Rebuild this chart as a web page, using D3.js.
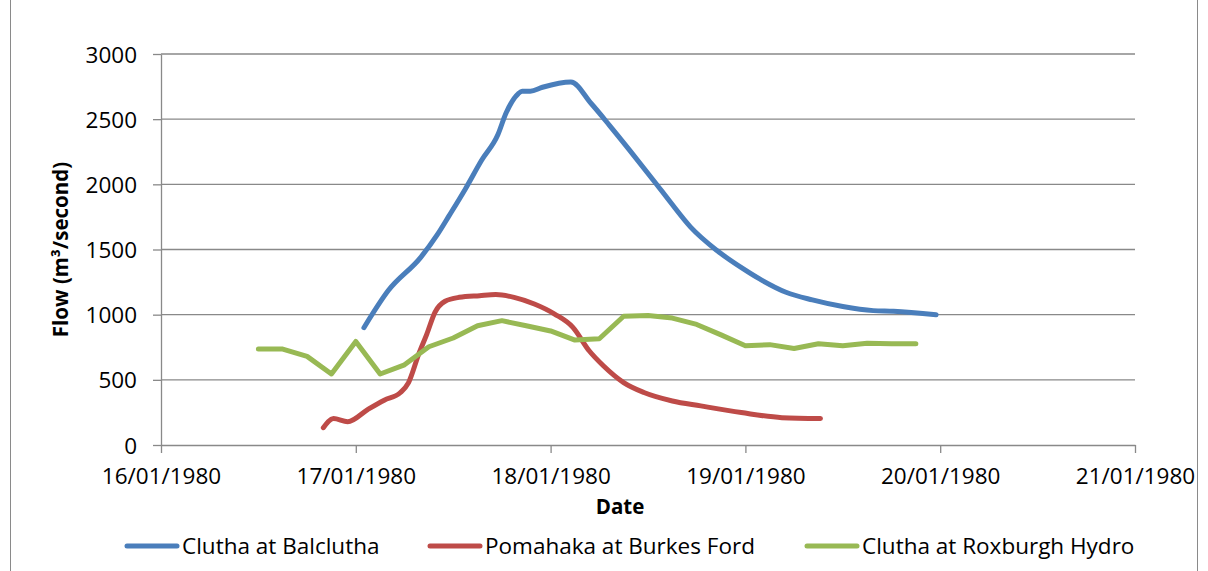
<!DOCTYPE html>
<html>
  <head>
    <meta charset="utf-8" />
    <title>Flow</title>
    <script src="https://d3js.org/d3.v7.min.js"></script>
    <style>
        body {
            margin: 0;
            background: #fff;
        }
        text {
            font-family: "Open Sans", sans-serif;
            fill: #000;
        }
    </style>
  </head>
  <body>
    <svg id="chart">
        <g id="grid"></g>
        <g id="x"></g>
        <g id="y"></g>
        <g id="lines"></g>
        <g id="legend"></g>
    </svg>

    <script>
        // tick labels
        var xTickDates = ["1980-01-16T00:00", "1980-01-17T00:00", "1980-01-18T00:00", "1980-01-19T00:00", "1980-01-20T00:00", "1980-01-21T00:00"];
        var xTickLabels = ["16/01/1980", "17/01/1980", "18/01/1980", "19/01/1980", "20/01/1980", "21/01/1980"];
        var yTicks = [0, 500, 1000, 1500, 2000, 2500, 3000];

        var seriesNames = ["Clutha at Balclutha", "Pomahaka at Burkes Ford", "Clutha at Roxburgh Hydro"];
        var seriesColors = ["#4a7ebb", "#be4b48", "#98b954"];

        // Clutha at Balclutha
        var balcluthaTimes = ["1980-01-17T01:00", "1980-01-17T04:00", "1980-01-17T08:00", "1980-01-17T10:00", "1980-01-17T11:30",
            "1980-01-17T13:30", "1980-01-17T15:30", "1980-01-17T17:30", "1980-01-17T18:30", "1980-01-17T20:00",
            "1980-01-17T20:30", "1980-01-17T21:30", "1980-01-17T23:00", "1980-01-18T02:30", "1980-01-18T05:00",
            "1980-01-18T07:15", "1980-01-18T09:45", "1980-01-18T13:00", "1980-01-18T14:45", "1980-01-18T17:15",
            "1980-01-18T20:30", "1980-01-18T23:45", "1980-01-19T01:45", "1980-01-19T05:00", "1980-01-19T08:15",
            "1980-01-19T12:00", "1980-01-19T15:45", "1980-01-19T18:15", "1980-01-19T23:30"];
        var balcluthaFlow = [900, 1185, 1440, 1610, 1760,
            1965, 2185, 2380, 2545, 2695,
            2715, 2715, 2745, 2785, 2620,
            2453, 2261, 2005, 1864, 1672,
            1492, 1351, 1274, 1172, 1113,
            1062, 1031, 1026, 1000];

        // Pomahaka at Burkes Ford
        var pomahakaTimes = ["1980-01-16T20:00", "1980-01-16T21:15", "1980-01-16T23:00", "1980-01-17T01:30", "1980-01-17T03:30",
            "1980-01-17T05:30", "1980-01-17T06:30", "1980-01-17T07:45", "1980-01-17T08:45", "1980-01-17T09:45",
            "1980-01-17T11:00", "1980-01-17T12:45", "1980-01-17T15:15", "1980-01-17T17:15", "1980-01-17T19:30",
            "1980-01-17T22:00", "1980-01-18T00:30", "1980-01-18T02:45", "1980-01-18T04:45", "1980-01-18T06:30",
            "1980-01-18T09:00", "1980-01-18T11:30", "1980-01-18T15:00", "1980-01-18T18:30", "1980-01-18T23:30",
            "1980-01-19T04:30", "1980-01-19T09:15"];
        var pomahakaFlow = [133, 203, 179, 274, 344,
            403, 479, 697, 851, 1018,
            1103, 1133, 1146, 1154, 1133,
            1082, 1005, 903, 723, 608,
            479, 403, 338, 300, 249,
            210, 203];

        // Clutha at Roxburgh Hydro
        var roxburghTimes = ["1980-01-16T12:00", "1980-01-16T15:00", "1980-01-16T18:00", "1980-01-16T21:00",
            "1980-01-17T00:00", "1980-01-17T03:00", "1980-01-17T06:00", "1980-01-17T09:00", "1980-01-17T12:00", "1980-01-17T15:00", "1980-01-17T18:00", "1980-01-17T21:00",
            "1980-01-18T00:00", "1980-01-18T03:00", "1980-01-18T06:00", "1980-01-18T09:00", "1980-01-18T12:00", "1980-01-18T15:00", "1980-01-18T18:00", "1980-01-18T21:00",
            "1980-01-19T00:00", "1980-01-19T03:00", "1980-01-19T06:00", "1980-01-19T09:00", "1980-01-19T12:00", "1980-01-19T15:00", "1980-01-19T18:00", "1980-01-19T21:00"];
        var roxburghFlow = [736, 736, 680, 545,
            795, 545, 615, 754, 821, 915, 954, 915,
            875, 805, 815, 988, 993, 974, 925, 845,
            762, 770, 740, 777, 762, 780, 777, 777];

        var width = 1208;
        var height = 571;
        var margin = {top: 54, right: 73, bottom: 126, left: 161};

        var parse = d3.timeParse("%Y-%m-%dT%H:%M");

        var svg = d3.select("#chart").attr("width", width).attr("height", height);

        // chart frame
        svg.insert("rect", ":first-child")
            .attr("x", 10.5).attr("y", -2)
            .attr("width", 1187).attr("height", height + 4)
            .attr("fill", "#fff").attr("stroke", "#8a8a8a").attr("stroke-width", 1);

        var x = d3.scaleTime()
            .domain([parse(xTickDates[0]), parse(xTickDates[xTickDates.length - 1])])
            .range([margin.left, width - margin.right]);

        var y = d3.scaleLinear()
            .domain([0, 3000])
            .range([height - margin.bottom, margin.top]);

        // horizontal gridlines
        svg.select("#grid").selectAll("line")
            .data(yTicks.slice(1))
            .enter().append("line")
            .attr("x1", margin.left).attr("x2", width - margin.right)
            .attr("y1", function(d) { return y(d); })
            .attr("y2", function(d) { return y(d); })
            .attr("stroke", "#898989").attr("stroke-width", 1.3);

        var yAxis = d3.axisLeft(y).tickValues(yTicks).tickFormat(d3.format("d"))
            .tickSize(8).tickSizeOuter(0).tickPadding(16);
        var gy = svg.select("#y").attr("transform", "translate(" + margin.left + ",0)").call(yAxis);

        var xAxis = d3.axisBottom(x)
            .tickValues(xTickDates.map(parse))
            .tickSize(8).tickSizeOuter(0).tickPadding(15)
            .tickFormat(function(d, i) { return xTickLabels[i]; });
        var gx = svg.select("#x").attr("transform", "translate(0," + y(0) + ")").call(xAxis);

        [gx, gy].forEach(function(g) {
            g.selectAll("path, line").attr("stroke", "#898989").attr("stroke-width", 1.3);
            g.selectAll("text").style("font-size", "22.5px").style("font-family", "'Open Sans', sans-serif").attr("fill", "#000");
        });
        gy.selectAll("text").attr("dy", "0.36em");

        // axis titles
        svg.append("text")
            .attr("x", 620).attr("y", 514)
            .attr("text-anchor", "middle")
            .style("font-size", "20.5px").style("font-weight", "bold")
            .text("Date");

        svg.append("text")
            .attr("transform", "translate(68," + ((y(0) + y(3000)) / 2) + ") rotate(-90)")
            .attr("text-anchor", "middle")
            .style("font-size", "20.5px").style("font-weight", "bold")
            .text("Flow (m³/second)");

        // series
        var series = [
            {times: balcluthaTimes, flow: balcluthaFlow, curve: d3.curveMonotoneX},
            {times: pomahakaTimes, flow: pomahakaFlow, curve: d3.curveMonotoneX},
            {times: roxburghTimes, flow: roxburghFlow, curve: d3.curveLinear}
        ];

        svg.select("#lines").selectAll("path")
            .data(series)
            .enter().append("path")
            .attr("fill", "none")
            .attr("stroke", function(d, i) { return seriesColors[i]; })
            .attr("stroke-width", 5)
            .attr("stroke-linecap", "round")
            .attr("stroke-linejoin", "round")
            .attr("d", function(s) {
                var line = d3.line()
                    .curve(s.curve)
                    .x(function(d, i) { return x(parse(s.times[i])); })
                    .y(function(d) { return y(d); });
                return line(s.flow);
            });

        // legend
        var legendX = [125, 428, 805];
        var items = svg.select("#legend").selectAll("g")
            .data(seriesNames)
            .enter().append("g")
            .attr("transform", function(d, i) { return "translate(" + legendX[i] + ",546)"; });

        items.append("line")
            .attr("x1", 2).attr("x2", 52)
            .attr("stroke", function(d, i) { return seriesColors[i]; })
            .attr("stroke-width", 5)
            .attr("stroke-linecap", "round");

        items.append("text")
            .attr("x", 57).attr("dy", "0.36em")
            .style("font-size", "22.5px")
            .text(function(d) { return d; });
    </script>
  </body>
</html>
